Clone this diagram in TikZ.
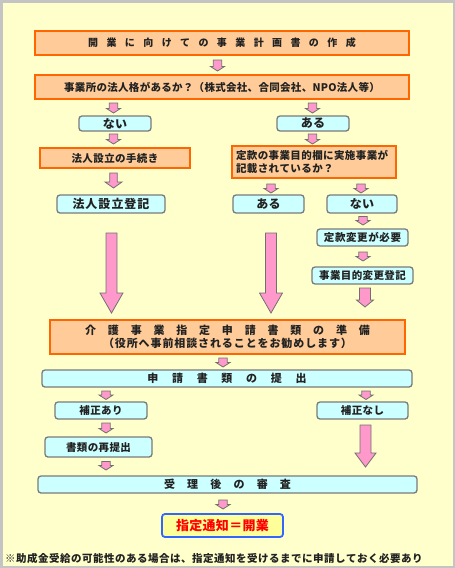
\documentclass[tikz,border=0pt]{standalone}
\usepackage{fontspec}
\newfontfamily\jp{Noto Sans CJK JP}[BoldFont={* Black}]
\definecolor{bgyel}{HTML}{FFFFCC}
\definecolor{frame}{HTML}{C4C4C4}
\definecolor{orfill}{HTML}{FFCC99}
\definecolor{ordraw}{HTML}{FF6600}
\definecolor{cyfill}{HTML}{CCFFFF}
\definecolor{cydraw}{HTML}{7A7A7A}
\definecolor{pkfill}{HTML}{FF99CC}
\definecolor{pkdraw}{HTML}{707070}
\definecolor{finfill}{HTML}{FFFF99}
\definecolor{findraw}{HTML}{3366FF}
\definecolor{txt}{HTML}{222222}
\ExplSyntaxOn
\NewDocumentCommand\spx{m m}
 {
  \bool_set_false:N \l_tmpa_bool
  \tl_map_inline:nn {#2}
   {
    \bool_if:NT \l_tmpa_bool { \hspace*{#1} }
    ##1
    \bool_set_true:N \l_tmpa_bool
   }
 }
\ExplSyntaxOff
\newcommand\fs[1]{\fontsize{#1}{#1}\selectfont}
\tikzset{
  orbox/.style={draw=ordraw, fill=orfill, line width=2.2pt, inner sep=0pt, text=txt, font=\jp\bfseries},
  cybox/.style={draw=cydraw, fill=cyfill, line width=1.3pt, rounded corners=3pt, inner sep=0pt, text=txt, font=\jp\bfseries},
  finbox/.style={draw=findraw, fill=finfill, line width=1.8pt, rounded corners=3pt, inner sep=0pt, text=red, font=\jp\bfseries},
  barrowstyle/.style={fill=pkfill, draw=pkdraw, line width=0.8pt, line join=miter}
}
% block arrow: cx, ytop, ybot, shaft half, head half, head length
\newcommand\barrow[6]{%
  \draw[barrowstyle] (#1-#4,#2) -- (#1+#4,#2) -- (#1+#4,#3-#6) -- (#1+#5,#3-#6) -- (#1,#3) -- (#1-#5,#3-#6) -- (#1-#4,#3-#6) -- cycle;}
\newcommand\sarrow[3]{\barrow{#1}{#2}{#3}{4.2}{7}{4.5}}
\begin{document}
\begin{tikzpicture}[x=1pt,y=-1pt]
\useasboundingbox (0,0) rectangle (455,568);
\fill[frame] (0,0) rectangle (455,568);
\fill[bgyel] (2.5,2.5) rectangle (452.5,565.5);

% nodes
\node[orbox, minimum width=374, minimum height=24] (n1) at (222,43) {\fs{10}\spx{8.4pt}{開業に向けての事業計画書の作成}};
\node[orbox, minimum width=374, minimum height=24] (n2) at (222,87) {\fs{10.5}\spx{0.3pt}{事業所の法人格があるか？（株式会社、合同会社、NPO法人等）}};
\node[cybox, minimum width=72, minimum height=15] (nai1) at (115,123.5) {\fs{12}\spx{0.5pt}{ない}};
\node[cybox, minimum width=72, minimum height=15] (aru1) at (313,123.5) {\fs{12}\spx{0.5pt}{ある}};
\node[orbox, minimum width=150, minimum height=20] (tetsu) at (115,158) {\fs{10.5}\spx{0.4pt}{法人設立の手続き}};
\node[orbox, minimum width=164, minimum height=32, align=left, text width=156, font=\jp\bfseries\fs{10.5}] (teikan) at (314,162) {\spx{0.4pt}{定款の事業目的欄に実施事業が}\\[3pt]\spx{0.4pt}{記載されているか？}};
\node[cybox, minimum width=108, minimum height=18] (touki) at (111,204) {\fs{12}\spx{1pt}{法人設立登記}};
\node[cybox, minimum width=71, minimum height=18] (aru2) at (268.5,204) {\fs{12}\spx{0.5pt}{ある}};
\node[cybox, minimum width=70, minimum height=18] (nai2) at (362,204) {\fs{12}\spx{0.5pt}{ない}};
\node[cybox, minimum width=91, minimum height=17] (henkou) at (362.5,237.5) {\fs{10.5}\spx{0.6pt}{定款変更が必要}};
\node[cybox, minimum width=101, minimum height=17] (mokuteki) at (362.5,275.5) {\fs{10.5}\spx{0.4pt}{事業目的変更登記}};
\node[orbox, minimum width=355, minimum height=34, align=center, font=\jp\bfseries\fs{11}] (junbi) at (227.5,337) {\spx{11.8pt}{介護事業指定申請書類の準備}\\[2pt]\spx{0.9pt}{（役所へ事前相談されることをお勧めします）}};
\node[cybox, minimum width=370, minimum height=17] (teishutsu) at (227,378.5) {\fs{11}\spx{13.7pt}{申請書類の提出}};
\node[cybox, minimum width=92, minimum height=17] (hoari) at (101,410.5) {\fs{10.5}\spx{0.4pt}{補正あり}};
\node[cybox, minimum width=91, minimum height=17] (honashi) at (362.5,410.5) {\fs{10.5}\spx{0.4pt}{補正なし}};
\node[cybox, minimum width=107, minimum height=20] (sai) at (98.5,447) {\fs{10.5}\spx{0.4pt}{書類の再提出}};
\node[cybox, minimum width=379, minimum height=17] (shinsa) at (227.5,484.5) {\fs{11}\spx{12.2pt}{受理後の審査}};
\node[finbox, minimum width=121, minimum height=23] (kaigyo) at (222.5,525.5) {\fs{13}\spx{0.3pt}{指定通知＝開業}};
\node[anchor=west, inner sep=0pt, text=txt, font=\jp\bfseries] (note) at (5,558) {\fs{10.5}\spx{0.5pt}{※助成金受給の可能性のある場合は、指定通知を受けるまでに申請しておく必要あり}};

% arrows
\sarrow{217.5}{60}{71}
\sarrow{113.5}{103}{113}
\sarrow{312.5}{103}{113}
\sarrow{113.5}{134}{144}
\sarrow{312.5}{134}{144}
\barrow{113.5}{173}{188}{3.8}{8.5}{6}
\sarrow{271}{184}{193}
\sarrow{361}{184}{193}
\sarrow{363}{216.5}{225}
\sarrow{363}{252}{261}
\barrow{365}{288}{307}{5.5}{8.5}{7}
\barrow{111.5}{233}{313}{5.5}{11.5}{20}
\barrow{271}{233}{313}{5.5}{11.5}{20}
\sarrow{223}{358}{367}
\sarrow{106}{391}{399.5}
\sarrow{366}{391}{399.5}
\sarrow{106}{423}{433}
\sarrow{106}{461.5}{470}
\barrow{365.5}{425}{467}{5.5}{10.5}{14}
\sarrow{223}{500}{509}
\end{tikzpicture}
\end{document}
